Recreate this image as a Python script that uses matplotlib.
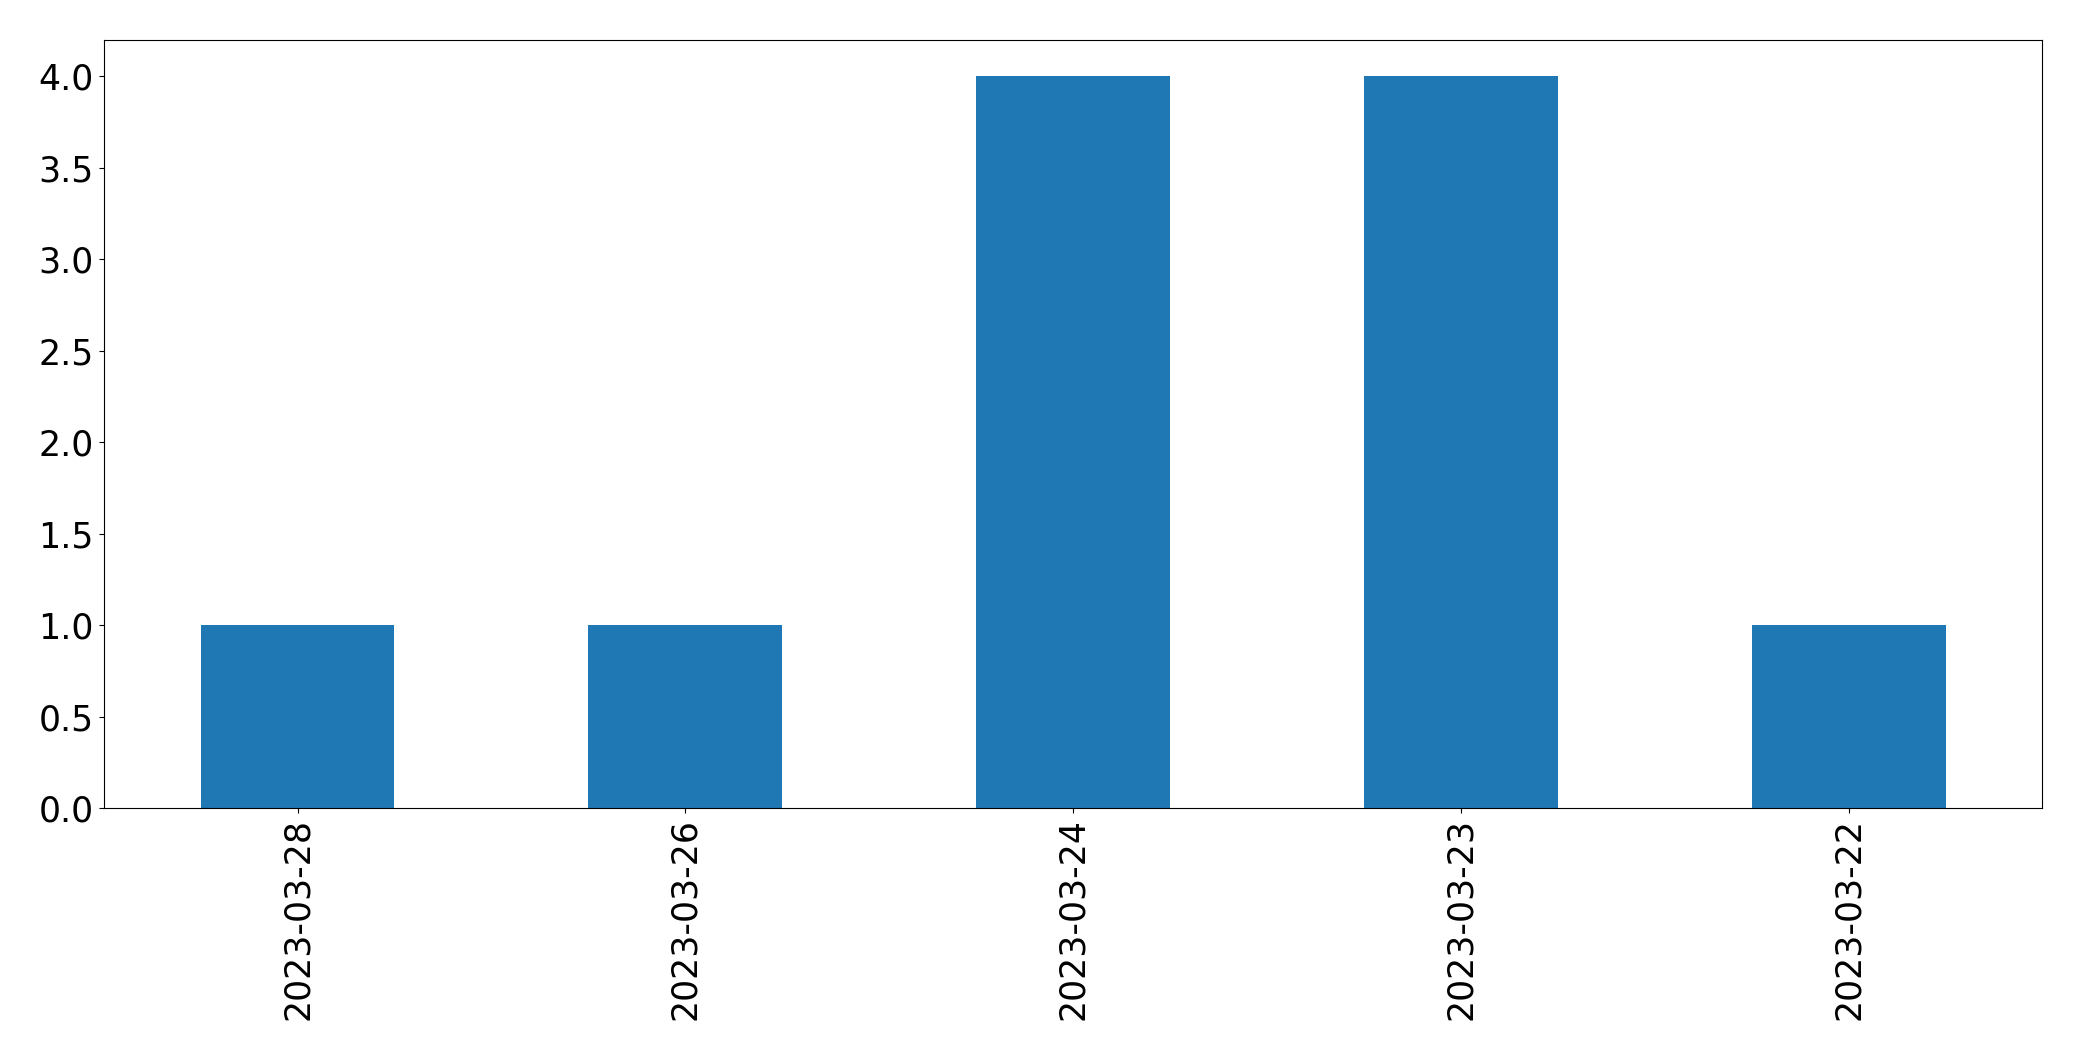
import matplotlib as mp
mp.use('Agg')
import matplotlib.pyplot as plt
import pandas as pd

dates = ['2023-03-28', '2023-03-26', '2023-03-24', '2023-03-23', '2023-03-22']
counts = [1, 1, 4, 4, 1]

def main():
    s = pd.Series(counts, index=dates)
    fig, ax = plt.subplots(figsize=(20.82, 10.61), dpi=100)
    s.plot(kind='bar', ax=ax, color='#1f77b4', fontsize=25)
    plt.subplots_adjust(left=0.0498, right=0.981, top=0.9625, bottom=0.238)
    fig.savefig('out.png', dpi=100)

if __name__ == "__main__":
    main()
